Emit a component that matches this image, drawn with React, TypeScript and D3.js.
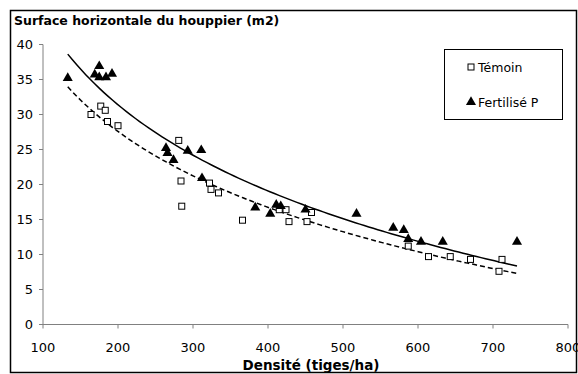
import React from "react";
import * as d3 from "d3";

// Témoin (squares)
const temoinDensite = [164, 177, 183, 186, 200, 281, 284, 285, 322, 324, 334, 366, 415, 424, 428, 452, 458, 587, 614, 643, 670, 708, 712];
const temoinSurface = [30.0, 31.2, 30.6, 29.0, 28.4, 26.3, 20.5, 16.9, 20.2, 19.3, 18.8, 14.9, 16.4, 16.4, 14.7, 14.7, 16.0, 11.2, 9.7, 9.7, 9.3, 7.6, 9.3];

// Fertilisé P (triangles)
const fertDensite = [133, 169, 175, 175, 184, 192, 264, 266, 274, 293, 311, 312, 383, 403, 411, 417, 450, 518, 567, 581, 587, 604, 633, 732];
const fertSurface = [35.2, 35.7, 36.9, 35.3, 35.3, 35.8, 25.2, 24.5, 23.5, 24.8, 24.9, 20.9, 16.7, 15.8, 17.1, 16.9, 16.4, 15.8, 13.8, 13.5, 12.2, 11.8, 11.8, 11.8];

const xTicks = [100, 200, 300, 400, 500, 600, 700, 800];
const yTicks = [0, 5, 10, 15, 20, 25, 30, 35, 40];

const title = "Surface horizontale du houppier (m2)";
const xTitle = "Densité (tiges/ha)";
const legendLabels = ["Témoin", "Fertilisé P"];

const W = 578;
const H = 374;
const FONT = "DejaVu Sans, Verdana, sans-serif";

// logarithmic trendline y = a + b ln(x), least squares
function logFit(xs: number[], ys: number[]) {
  const lx = xs.map((v) => Math.log(v));
  const mx = d3.mean(lx)!;
  const my = d3.mean(ys)!;
  const sxy = d3.sum(lx, (v, i) => (v - mx) * (ys[i] - my));
  const sxx = d3.sum(lx, (v) => (v - mx) ** 2);
  const b = sxy / sxx;
  const a = my - b * mx;
  return (x: number) => a + b * Math.log(x);
}

const App = () => {
  const x = d3.scaleLinear().domain([100, 800]).range([43, 568]);
  const y = d3.scaleLinear().domain([0, 40]).range([324.5, 44.5]);

  const allX = temoinDensite.concat(fertDensite);
  const [x0, x1] = d3.extent(allX) as [number, number];
  const xs = d3.range(0, 101).map((i) => x0 + ((x1 - x0) * i) / 100);

  const fitT = logFit(temoinDensite, temoinSurface);
  const fitF = logFit(fertDensite, fertSurface);

  const line = d3.line<number>().x((d) => x(d));

  const tri = d3.symbol().type(d3.symbolTriangle).size(44)();

  return (
    <svg
      width={W}
      height={H}
      style={{ position: "absolute", left: 0, top: 0, background: "#fff" }}
      fontFamily={FONT}
    >
      <rect x={10.5} y={10.5} width={566} height={362} fill="#fff" stroke="#000" strokeWidth={1.5} />

      <text x={14} y={25} fontSize={12.5} fontWeight="bold">
        {title}
      </text>

      {/* axes */}
      <line x1={x(100)} x2={x(100)} y1={y(40)} y2={y(0)} stroke="#808080" />
      <line x1={x(100)} x2={x(800)} y1={y(0)} y2={y(0)} stroke="#808080" />
      {yTicks.map((t) => (
        <g key={"y" + t}>
          <line x1={x(100) - 4} x2={x(100)} y1={y(t)} y2={y(t)} stroke="#808080" />
          <text x={33} y={y(t)} dy="0.36em" textAnchor="end" fontSize={13}>
            {t}
          </text>
        </g>
      ))}
      {xTicks.map((t) => (
        <g key={"x" + t}>
          <line x1={x(t)} x2={x(t)} y1={y(0)} y2={y(0) + 4} stroke="#808080" />
          <text x={x(t)} y={352} textAnchor="middle" fontSize={13}>
            {t}
          </text>
        </g>
      ))}
      <text x={311} y={370} textAnchor="middle" fontSize={13.5} fontWeight="bold">
        {xTitle}
      </text>

      {/* trendlines */}
      <path
        d={line.y((d) => y(fitT(d)))(xs) || ""}
        fill="none"
        stroke="#000"
        strokeWidth={1.5}
        strokeDasharray="5,3"
      />
      <path d={line.y((d) => y(fitF(d)))(xs) || ""} fill="none" stroke="#000" strokeWidth={1.5} />

      {/* points */}
      {temoinDensite.map((d, i) => (
        <rect
          key={"t" + i}
          x={x(d) - 3}
          y={y(temoinSurface[i]) - 3}
          width={6}
          height={6}
          fill="#fff"
          stroke="#000"
          strokeWidth={1}
        />
      ))}
      {fertDensite.map((d, i) => (
        <path key={"f" + i} d={tri || ""} transform={`translate(${x(d)},${y(fertSurface[i])})`} fill="#000" />
      ))}

      {/* legend */}
      <rect x={444.5} y={49.5} width={118} height={70} fill="#fff" stroke="#000" />
      <rect x={468} y={64} width={6} height={6} fill="#fff" stroke="#000" />
      <text x={478} y={67} dy="0.36em" fontSize={12.5}>
        {legendLabels[0]}
      </text>
      <path d={tri || ""} transform="translate(471,102)" fill="#000" />
      <text x={478} y={102} dy="0.36em" fontSize={12.5}>
        {legendLabels[1]}
      </text>
    </svg>
  );
};

export default App;
